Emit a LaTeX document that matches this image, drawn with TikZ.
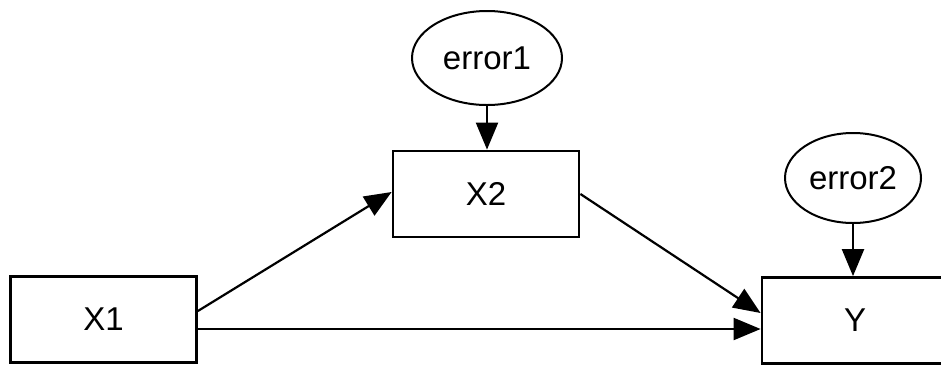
\documentclass[tikz,border=0pt]{standalone}
\usepackage{fontspec}
\setmainfont{Liberation Sans}
\usetikzlibrary{shapes.geometric,arrows.meta}
\begin{document}
\begin{tikzpicture}[x=1pt,y=-1pt,
  varbox/.style={draw,line width=2.8pt,rectangle,inner sep=0pt,
    minimum width=186pt,minimum height=86pt,font=\fontsize{33}{36}\selectfont},
  errnode/.style={draw,line width=2pt,ellipse,inner sep=0pt,
    font=\fontsize{33}{36}\selectfont},
  path/.style={line width=2.2pt,-{Triangle[length=27pt,width=22pt]}}]
  \clip (0,0) rectangle (941,365);
  \fill[white] (0,0) rectangle (941,365);
  % observed variables
  \node[varbox] (X1) at (103.5,319.5) {X1};
  \node[varbox] (X2) at (486,194) {X2};
  \node[varbox] (Y)  at (855,320.5) {Y};
  % error terms
  \node[errnode,minimum width=150pt,minimum height=94pt] (e1) at (487,58) {error1};
  \node[errnode,minimum width=136pt,minimum height=90pt] (e2) at (853,178) {error2};
  % paths
  \draw[path] ([yshift=8.5pt]X1.east) -- ([yshift=2pt]X2.west);
  \draw[path] ([yshift=-9.5pt]X1.east) -- ([yshift=-8.5pt]Y.west);
  \draw[path] (X2.east) -- ([yshift=7.5pt]Y.west);
  \draw[path] (e1.south) -- (X2.north -| e1.south);
  \draw[path] (e2.south) -- (Y.north -| e2.south);
\end{tikzpicture}
\end{document}
